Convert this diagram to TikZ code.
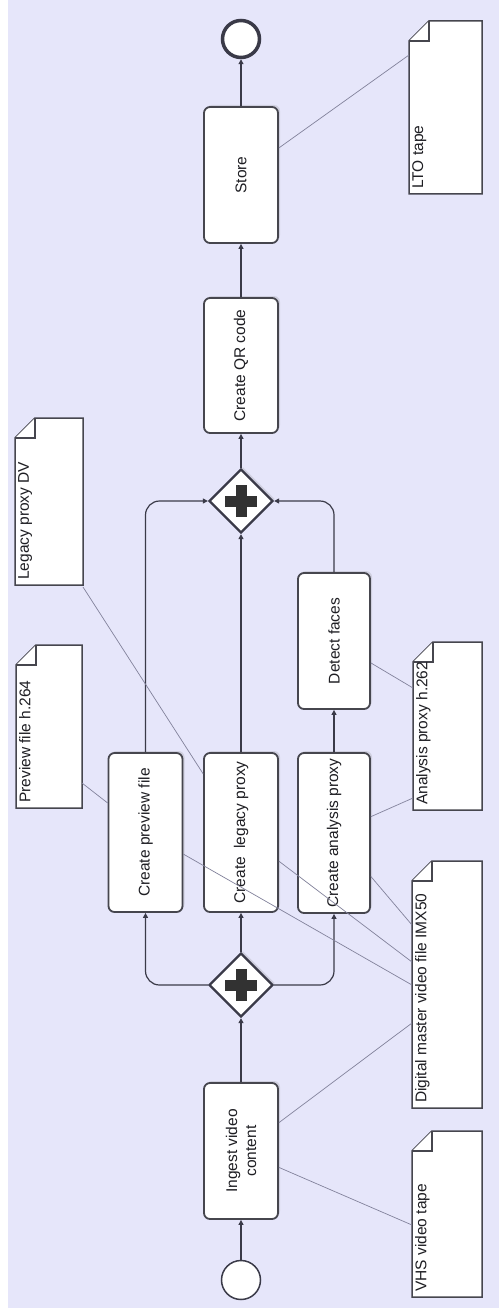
\documentclass[tikz,border=0pt]{standalone}
\usepackage{fontspec}
\setmainfont{Liberation Sans}
\usetikzlibrary{arrows.meta,shapes.geometric,shadows}
\definecolor{bgc}{RGB}{230,230,250}
\definecolor{linec}{RGB}{58,58,72}
\definecolor{boxc}{RGB}{70,70,78}
\definecolor{assocc}{RGB}{130,130,155}
\definecolor{plusc}{RGB}{50,50,50}
\definecolor{txtc}{RGB}{30,30,35}
\newcommand\docshape[4]{%
  \filldraw[docborder] (#1+20,#2) -- (#3,#2) -- (#3,#4) -- (#1,#4) -- (#1,#2+20) -- cycle;
  \draw[docborder,line width=1.1pt] (#1,#2+20) -- (#1+20,#2+20) -- (#1+20,#2);}
\begin{document}
\begin{tikzpicture}[x=1pt,y=-1pt,
  font=\fontsize{15.5}{19}\selectfont, text=txtc,
  task/.style={rectangle, rotate=90, draw=boxc, line width=1.8pt, fill=white,
    rounded corners=6pt, minimum height=74pt, inner sep=2pt, align=center,
    drop shadow={shadow xshift=2pt, shadow yshift=2pt, opacity=0.22}},
  gate/.style={diamond, draw=linec, line width=2.3pt, fill=white, inner sep=0pt,
    minimum width=64pt, minimum height=64pt,
    drop shadow={shadow xshift=2pt, shadow yshift=2pt, opacity=0.22}},
  startev/.style={circle, draw=linec, line width=1.5pt, fill=white, minimum size=39pt, inner sep=0pt},
  endev/.style={circle, draw=linec, line width=3.5pt, fill=white, minimum size=37pt, inner sep=0pt},
  flow/.style={draw=linec, line width=1.2pt, rounded corners=14pt, -{Triangle[length=5pt,width=5pt]}},
  assoc/.style={draw=assocc, line width=0.7pt},
  docborder/.style={draw=boxc, line width=1.5pt, fill=white},
  doctext/.style={rotate=90, anchor=north west, inner sep=1pt}]
\useasboundingbox (0,0) rectangle (499,1308);
\fill[white] (0,0) rectangle (499,1308);
\fill[bgc] (8,0) rectangle (499,1308);

% documents
\docshape{409}{21}{482}{194}
\node[doctext] (lto) at (411,190) {LTO tape};
\docshape{15}{418}{83}{585}
\node[doctext] (legdoc) at (17,581) {Legacy proxy DV};
\docshape{16}{645}{82}{808}
\node[doctext] (predoc) at (18,804) {Preview file h.264};
\docshape{413}{642}{482}{810}
\node[doctext] (anadoc) at (415,806) {Analysis proxy h.262};
\docshape{412}{861}{482}{1108}
\node[doctext] (digdoc) at (414,1104) {Digital master video file IMX50};
\docshape{412}{1131}{482}{1297}
\node[doctext] (vhsdoc) at (414,1293) {VHS video tape};

% tasks
\node[task, minimum width=136pt] (store) at (241,175) {Store};
\node[task, minimum width=135pt] (qr) at (241,365.5) {Create QR code};
\node[task, minimum width=136pt, minimum height=72pt] (detect) at (334,641) {Detect faces};
\node[task, minimum width=159pt] (preview) at (145.5,832.5) {Create preview file};
\node[task, minimum width=159pt] (legacy) at (241,832.5) {Create\ \ legacy proxy};
\node[task, minimum width=160pt, minimum height=72pt] (analysis) at (334,833) {Create analysis proxy};
\node[task, minimum width=136pt] (ingest) at (241,1151) {Ingest video\\content};

% gateways
\node[gate] (split) at (241,985) {};
\node[gate] (join) at (241,501) {};
\foreach \g in {split,join}{
  \fill[plusc] ([xshift=-16pt,yshift=-5.5pt]\g.center) rectangle ([xshift=16pt,yshift=5.5pt]\g.center);
  \fill[plusc] ([xshift=-5.5pt,yshift=-16pt]\g.center) rectangle ([xshift=5.5pt,yshift=16pt]\g.center);
}

% events
\node[startev] (start) at (241,1280) {};
\node[endev] (end) at (241,39) {};

% sequence flows
\draw[flow] (start) -- (ingest);
\draw[flow] (ingest) -- (split);
\draw[flow] (split.west) -| (preview.west);
\draw[flow] (split) -- (legacy);
\draw[flow] (split.east) -| (analysis.west);
\draw[flow] (preview.east) |- (join.west);
\draw[flow] (legacy) -- (join);
\draw[flow] (analysis) -- (detect);
\draw[flow] (detect.east) |- (join.east);
\draw[flow] (join) -- (qr);
\draw[flow] (qr) -- (store);
\draw[flow] (store) -- (end);

% associations
\coordinate (ltoA) at (409,55);
\coordinate (legA) at (83,587);
\coordinate (preA) at (82,783);
\coordinate (anaA1) at (413,688);
\coordinate (anaA2) at (413,798);
\coordinate (digA1) at (412,925);
\coordinate (digA2) at (412,962);
\coordinate (digA3) at (412,985);
\coordinate (digA4) at (412,1023);
\coordinate (vhsA) at (412,1225);
\draw[assoc] (store) -- (ltoA);
\draw[assoc] (legacy) -- (legA);
\draw[assoc] (preview) -- (preA);
\draw[assoc] (detect) -- (anaA1);
\draw[assoc] (analysis) -- (anaA2);
\draw[assoc] (analysis) -- (digA1);
\draw[assoc] (legacy) -- (digA2);
\draw[assoc] (preview) -- (digA3);
\draw[assoc] (ingest) -- (digA4);
\draw[assoc] (ingest) -- (vhsA);
\end{tikzpicture}
\end{document}
